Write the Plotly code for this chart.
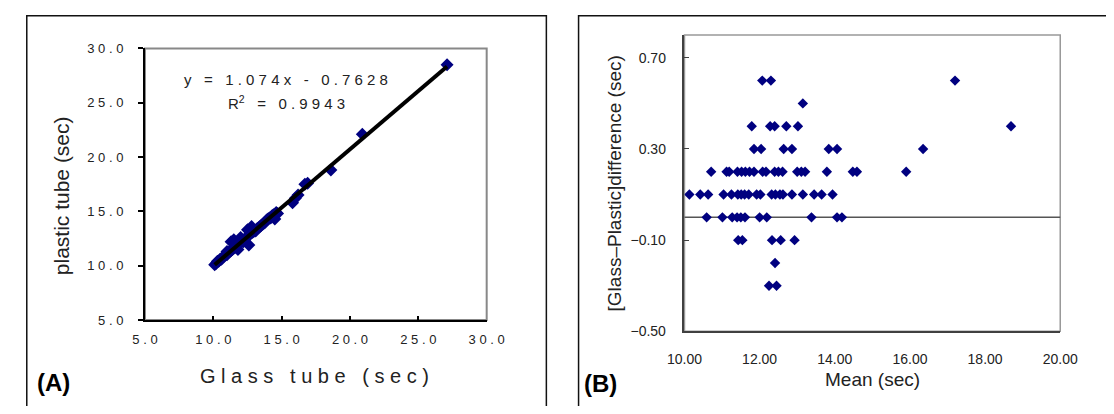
import plotly.graph_objects as go

# ---------------- data ----------------
# Panel A: glass tube vs plastic tube clotting times (sec)
glass_tube = [10.1, 10.2, 10.3, 10.4, 10.5, 10.6, 10.7, 10.8, 10.9, 11.0,
              11.0, 11.1, 11.2, 11.3, 11.3, 11.4, 11.5, 11.5, 11.6, 11.7,
              11.8, 11.8, 11.9, 12.0, 12.0, 12.1, 12.2, 12.3, 12.4, 12.5,
              12.5, 12.6, 12.6, 12.7, 12.8, 12.8, 12.9, 13.0, 13.1, 13.2,
              13.3, 13.4, 13.5, 13.6, 13.7, 13.8, 13.9, 14.0, 14.1, 14.2,
              14.3, 14.4, 14.5, 14.6, 14.7,
              15.8, 16.0, 16.2, 16.7, 16.9, 18.6, 20.9, 27.1]
plastic_tube = [10.1, 10.2, 10.4, 10.4, 10.6, 10.6, 10.8, 10.9, 11.0, 11.0,
                11.3, 11.2, 11.3, 11.4, 12.2, 11.5, 11.6, 12.4, 11.7, 11.9,
                11.9, 11.5, 12.1, 12.1, 12.6, 12.3, 12.2, 12.4, 12.6, 12.7,
                13.3, 12.8, 11.9, 13.0, 13.0, 13.6, 13.1, 13.2, 13.2, 13.4,
                13.5, 13.6, 13.7, 13.8, 13.9, 14.0, 14.2, 14.3, 14.4, 14.4,
                14.6, 14.7, 14.3, 14.9, 14.8,
                15.8, 16.2, 16.5, 17.5, 17.6, 18.8, 22.1, 28.5]
trend_slope = 1.074
trend_intercept = -0.7628
r_squared = 0.9943

# Panel B: Bland-Altman (mean, difference), grouped by difference level
mean_06 = [12.07, 12.30, 17.20]
mean_05 = [13.15]
mean_04 = [11.79, 12.28, 12.40, 12.71, 13.02, 18.69]
mean_03 = [11.85, 12.04, 12.64, 12.86, 13.84, 14.06, 16.35]
mean_02 = [10.71, 11.12, 11.19, 11.41, 11.52, 11.62, 11.73, 11.85, 12.08, 12.17,
           12.40, 12.50, 12.61, 13.00, 13.11, 13.21, 13.79, 14.48, 14.59, 15.90]
mean_01 = [10.13, 10.42, 10.63, 11.04, 11.25, 11.42, 11.51, 11.60, 11.71, 11.92,
           12.02, 12.32, 12.42, 12.54, 12.62, 12.86, 13.15, 13.45, 13.65, 13.94]
mean_00 = [10.59, 11.01, 11.27, 11.40, 11.50, 11.61, 12.00, 12.19, 13.38, 14.06, 14.19]
mean_m01 = [11.43, 11.54, 12.33, 12.56, 12.93]
mean_m02 = [12.41]
mean_m03 = [12.25, 12.45]
diff_levels = [0.6, 0.5, 0.4, 0.3, 0.2, 0.1, 0.0, -0.1, -0.2, -0.3]
mean_groups = [mean_06, mean_05, mean_04, mean_03, mean_02, mean_01,
               mean_00, mean_m01, mean_m02, mean_m03]
zero_reference = 0.0

a_ticks = [5, 10, 15, 20, 25, 30]
b_xticks = [10, 12, 14, 16, 18, 20]
b_yticks = [-0.5, -0.1, 0.3, 0.7]

# ---------------- helpers ----------------
# The page keeps its default 8 px body margin; the figure is sized so the
# whole page is exactly the 1114x414 window, and screen positions are
# converted into figure coordinates.
PAGE_W, PAGE_H = 1114, 414
OFF = 8
W, H = PAGE_W - 2 * OFF, PAGE_H - 2 * OFF
NB = "\u00a0"


def px(x):
    return (x - OFF) / W


def py(y):
    return 1 - (y - OFF) / H


def spaced(text, word_gap=3):
    words = text.split(" ")
    return (NB * word_gap).join(NB.join(list(w)) for w in words)


bland_mean = []
bland_diff = []
for lvl, grp in zip(diff_levels, mean_groups):
    for m in grp:
        bland_mean.append(m)
        bland_diff.append(lvl)

navy = "#000080"
FONT = "Liberation Sans, Arial, sans-serif"

fig = go.Figure()

# Panel A scatter
fig.add_trace(go.Scatter(
    x=glass_tube, y=plastic_tube, mode="markers",
    marker=dict(symbol="diamond", size=10, color=navy, line=dict(width=0)),
    xaxis="x", yaxis="y", showlegend=False, hoverinfo="skip"))
# Panel A trend line
tx = [min(glass_tube), max(glass_tube)]
ty = [trend_slope * v + trend_intercept for v in tx]
fig.add_trace(go.Scatter(
    x=tx, y=ty, mode="lines", line=dict(color="black", width=4),
    xaxis="x", yaxis="y", showlegend=False, hoverinfo="skip"))

# Panel B scatter
fig.add_trace(go.Scatter(
    x=bland_mean, y=bland_diff, mode="markers",
    marker=dict(symbol="diamond", size=8, color=navy, line=dict(width=0)),
    xaxis="x2", yaxis="y2", showlegend=False, hoverinfo="skip"))

tickfont_a = dict(family=FONT, size=13, color="#222222")
tickfont_b = dict(family=FONT, size=14, color="#222222")

fig.update_layout(
    width=W, height=H, autosize=False,
    margin=dict(l=0, r=0, t=0, b=0),
    paper_bgcolor="white", plot_bgcolor="white",
    xaxis=dict(domain=[px(131), px(484.3)], range=[5, 30],
               tickvals=a_ticks, ticktext=[spaced(f"{v:.1f}") for v in a_ticks],
               tickfont=tickfont_a, showgrid=False, zeroline=False,
               showline=True, linecolor="black", linewidth=2,
               ticks="inside", ticklen=4, tickcolor="black", tickwidth=1.5,
               ticklabelstandoff=6, anchor="y"),
    yaxis=dict(domain=[py(325), py(42.7)], range=[5, 30],
               tickvals=a_ticks, ticktext=[spaced(f"{v:.1f}") for v in a_ticks],
               tickfont=tickfont_a, showgrid=False, zeroline=False,
               showline=True, linecolor="black", linewidth=2,
               ticks="outside", ticklen=5, tickcolor="black", tickwidth=1.5,
               ticklabelstandoff=12, anchor="x"),
    xaxis2=dict(domain=[px(688.8), px(1077.3)], range=[10, 20],
                tickvals=b_xticks, tickformat=".2f",
                tickfont=tickfont_b, showgrid=False, zeroline=False,
                showline=True, linecolor="#404040", linewidth=1.5,
                ticks="", ticklabelstandoff=14, anchor="y2"),
    yaxis2=dict(domain=[py(336.7), py(28.8)], range=[-0.5, 0.8],
                tickvals=b_yticks, tickformat=".2f",
                tickfont=tickfont_b, showgrid=False, zeroline=False,
                showline=True, linecolor="#404040", linewidth=1.5,
                ticks="inside", ticklen=5, tickcolor="#404040", tickwidth=1.2,
                ticklabelstandoff=14, anchor="x2"),
)

shapes = [
    # panel frames (edges that fall in the page margin are kept just inside)
    dict(type="rect", xref="paper", yref="paper", x0=px(8.8), x1=px(546),
         y0=py(440), y1=py(8.8), line=dict(color="#111111", width=1.5)),
    dict(type="rect", xref="paper", yref="paper", x0=px(579.3), x1=px(1140),
         y0=py(440), y1=py(8.8), line=dict(color="#111111", width=1.5)),
    # plot-area gray borders
    dict(type="rect", xref="x domain", yref="y domain", x0=0, x1=1, y0=0, y1=1,
         line=dict(color="#888888", width=2), layer="below"),
    dict(type="rect", xref="x2 domain", yref="y2 domain", x0=0, x1=1, y0=0, y1=1,
         line=dict(color="#999999", width=1.5), layer="below"),
    # zero-difference reference line
    dict(type="line", xref="x2 domain", yref="y2", x0=0, x1=1,
         y0=zero_reference, y1=zero_reference,
         line=dict(color="#555555", width=1.5), layer="below"),
]
fig.update_layout(shapes=shapes)

ann_font = dict(family=FONT, color="#222222")
annotations = [
    dict(x=px(277), y=py(75),
         text=spaced(f"y = {trend_slope}x - {abs(trend_intercept)}"),
         font=dict(size=15, **ann_font)),
    dict(x=px(277), y=py(99),
         text="R<sup>2</sup>" + NB * 3 + "=" + NB * 3 + spaced(f"{r_squared}"),
         font=dict(size=15, **ann_font)),
    dict(x=px(306), y=py(383), text=spaced("Glass tube (sec)"),
         font=dict(size=20, **ann_font)),
    dict(x=px(45.5), y=py(196), text="plastic tube (sec)", textangle=-90,
         font=dict(size=21, **ann_font)),
    dict(x=px(36.5), y=py(390), text="<b>(A)</b>",
         font=dict(size=24, family=FONT, color="black")),
    dict(x=px(616.5), y=py(183.5), text="[Glass\u2013Plastic]difference (sec)",
         textangle=-90, font=dict(size=19, **ann_font)),
    dict(x=px(883), y=py(387), text="Mean (sec)",
         font=dict(size=19, **ann_font)),
    dict(x=px(602), y=py(391), text="<b>(B)</b>",
         font=dict(size=24, family=FONT, color="black")),
]
for a in annotations:
    a.update(xref="paper", yref="paper", xanchor="center", yanchor="middle",
             showarrow=False)
fig.update_layout(annotations=annotations)

fig.write_html("out.html", config={"displayModeBar": False})
